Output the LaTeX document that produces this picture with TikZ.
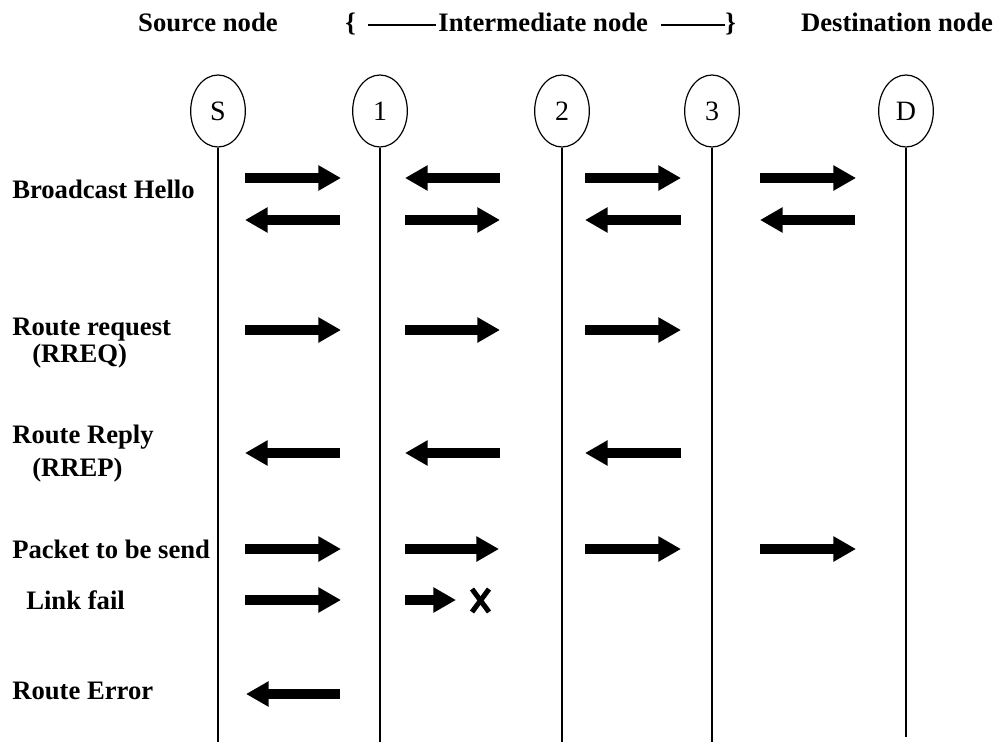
\documentclass[tikz,border=0pt]{standalone}
\usepackage{fontspec}
\setmainfont{Liberation Serif}
\usetikzlibrary{shapes.geometric,arrows.meta}
\begin{document}
\begin{tikzpicture}[x=0.75pt,y=-0.75pt,
  lifenode/.style={draw,ellipse,line width=0.9pt,minimum width=41pt,minimum height=54pt,inner sep=0pt,font=\fontsize{21}{24}\selectfont},
  lifeline/.style={line width=0.9pt},
  msg/.style={line width=6.8pt,-{Triangle[length=17pt,width=18pt]}},
  lbl/.style={anchor=base west,inner sep=0pt,font=\fontsize{20}{23}\selectfont\bfseries},
  hdr/.style={anchor=base,inner sep=0pt,font=\fontsize{20}{23}\selectfont\bfseries}]
\useasboundingbox (0,0) rectangle (995,742);
% header
\node[hdr] (hs) at (208,32) {Source node};
\node[hdr,anchor=base west] (hi) at (345,32) {\{\hspace{9pt}\rule[0.24em]{51pt}{0.9pt}\hspace{2pt}Intermediate node\hspace{10pt}\rule[0.24em]{48pt}{0.9pt}\}};
\node[hdr] (hd) at (897,32) {Destination node};
% nodes
\node[lifenode] (S) at (218,111) {S};
\node[lifenode] (N1) at (380,111) {1};
\node[lifenode] (N2) at (562,111) {2};
\node[lifenode] (N3) at (712,111) {3};
\node[lifenode] (D) at (906,111) {D};
\coordinate (Sb) at (218,742);
\coordinate (N1b) at (380,742);
\coordinate (N2b) at (562,742);
\coordinate (N3b) at (712,742);
\coordinate (Db) at (906,737);
\draw[lifeline] (S) -- (Sb);
\draw[lifeline] (N1) -- (N1b);
\draw[lifeline] (N2) -- (N2b);
\draw[lifeline] (N3) -- (N3b);
\draw[lifeline] (D) -- (Db);
% labels
\node[lbl] (l1) at (12,198) {Broadcast Hello};
\node[lbl] (l2) at (12,335) {Route request};
\node[lbl] (l2b) at (32,362) {(RREQ)};
\node[lbl] (l3) at (12,443) {Route Reply};
\node[lbl] (l3b) at (32,476) {(RREP)};
\node[lbl] (l4) at (12,558) {Packet to be send};
\node[lbl] (l5) at (26,609) {Link fail};
\node[lbl] (l6) at (12,699) {Route Error};
% broadcast hello
\draw[msg] (245,178) -- (341,178);
\draw[msg] (340,220) -- (245,220);
\draw[msg] (500,178) -- (405,178);
\draw[msg] (405,220) -- (500,220);
\draw[msg] (585,178) -- (681,178);
\draw[msg] (681,220) -- (585,220);
\draw[msg] (760,178) -- (856,178);
\draw[msg] (855,220) -- (760,220);
% RREQ
\draw[msg] (245,330) -- (341,330);
\draw[msg] (405,330) -- (500,330);
\draw[msg] (585,330) -- (681,330);
% RREP
\draw[msg] (340,453) -- (245,453);
\draw[msg] (500,453) -- (405,453);
\draw[msg] (681,453) -- (585,453);
% packet
\draw[msg] (245,549) -- (341,549);
\draw[msg] (405,549) -- (499,549);
\draw[msg] (585,549) -- (681,549);
\draw[msg] (760,549) -- (856,549);
% link fail
\draw[msg] (245,600) -- (341,600);
\draw[msg] (405,600) -- (456,600);
\coordinate (xa) at (472,589);
\coordinate (xb) at (489,612);
\coordinate (xc) at (489,589);
\coordinate (xd) at (472,612);
\draw[line width=3.8pt] (xa) -- (xb);
\draw[line width=3.8pt] (xc) -- (xd);
% route error
\draw[msg] (340,694) -- (246,694);
\end{tikzpicture}
\end{document}
